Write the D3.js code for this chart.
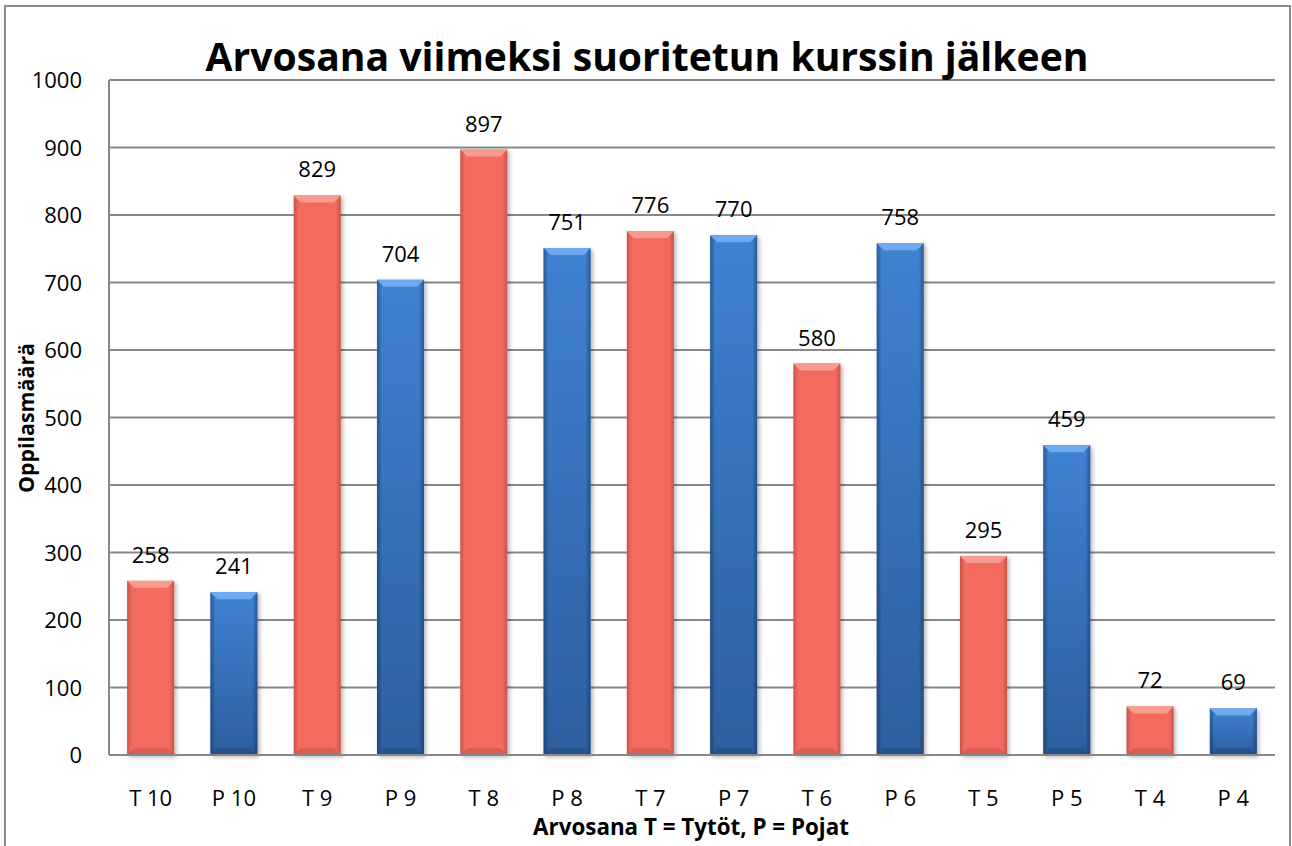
<!DOCTYPE html>
<html>
<head>
<meta charset="utf-8">
<script src="https://cdnjs.cloudflare.com/ajax/libs/d3/7.8.5/d3.min.js"></script>
<style>
  body { margin: 0; background: #fff; }
  svg { display: block; font-family: "Open Sans", sans-serif; }
</style>
</head>
<body>
<svg class="chart" width="1292" height="846"></svg>
<script>
// values
var categories = ["T 10", "P 10", "T 9", "P 9", "T 8", "P 8", "T 7", "P 7", "T 6", "P 6", "T 5", "P 5", "T 4", "P 4"];
var values = [258, 241, 829, 704, 897, 751, 776, 770, 580, 758, 295, 459, 72, 69];
var groups = ["T", "P", "T", "P", "T", "P", "T", "P", "T", "P", "T", "P", "T", "P"];
var yTicks = [0, 100, 200, 300, 400, 500, 600, 700, 800, 900, 1000];

var titleText = "Arvosana viimeksi suoritetun kurssin jälkeen";
var xTitleText = "Arvosana T = Tytöt, P = Pojat";
var yTitleText = "Oppilasmäärä";

var svg = d3.select(".chart");
var plotLeft = 109, plotRight = 1275, plotTop = 80, plotBottom = 755;

var x = d3.scaleBand().domain(categories).range([plotLeft, plotRight])
    .paddingInner(0.435).paddingOuter(0.2175);
var y = d3.scaleLinear().domain([0, 1000]).range([plotBottom, plotTop]);

// shrink/grow a text's font size so it spans a given width
function fitText(sel, width) {
    var len = sel.node().getComputedTextLength();
    var fs = parseFloat(sel.attr("font-size"));
    sel.attr("font-size", fs * width / len);
}

var defs = svg.append("defs");

function sideGrad(id, edge, mid) {
    var g = defs.append("linearGradient").attr("id", id)
        .attr("x1", 0).attr("x2", 1).attr("y1", 0).attr("y2", 0);
    g.append("stop").attr("offset", "0").attr("stop-color", edge);
    g.append("stop").attr("offset", "0.1").attr("stop-color", mid);
    g.append("stop").attr("offset", "0.9").attr("stop-color", mid);
    g.append("stop").attr("offset", "1").attr("stop-color", edge);
}
sideGrad("gradT", "#c85248", "#f36b5e");

var gp = defs.append("linearGradient").attr("id", "gradP")
    .attr("x1", 0).attr("x2", 0).attr("y1", 0).attr("y2", 1);
gp.append("stop").attr("offset", "0").attr("stop-color", "#3f82d2");
gp.append("stop").attr("offset", "1").attr("stop-color", "#2d5f9f");
sideGrad("sideP", "rgba(20,50,100,0.45)", "rgba(0,0,0,0)");

var shadow = defs.append("filter").attr("id", "shadow")
    .attr("x", "-20%").attr("y", "-5%").attr("width", "140%").attr("height", "115%");
shadow.append("feDropShadow").attr("dx", 2).attr("dy", 2)
    .attr("stdDeviation", 2).attr("flood-color", "#000").attr("flood-opacity", 0.3);

var colors = {
    T: { fill: "url(#gradT)", top: "#f89b90", bottom: "#d45a4f" },
    P: { fill: "url(#gradP)", top: "#6eaaf0", bottom: "#264f85" }
};

// outer frame
svg.append("rect")
    .attr("x", 5).attr("y", 6).attr("width", 1285).attr("height", 860)
    .attr("fill", "none").attr("stroke", "#8c8c8c").attr("stroke-width", 2);

// gridlines
svg.append("g").selectAll("line")
    .data(yTicks.slice(1))
    .enter().append("line")
    .attr("x1", plotLeft).attr("x2", plotRight)
    .attr("y1", function(d) { return y(d); })
    .attr("y2", function(d) { return y(d); })
    .attr("stroke", "#888").attr("stroke-width", 2);

// y tick labels
svg.append("g").selectAll("text")
    .data(yTicks)
    .enter().append("text")
    .attr("x", plotLeft - 27)
    .attr("y", function(d) { return y(d) + 8; })
    .attr("text-anchor", "end")
    .attr("font-size", 22)
    .attr("fill", "#000")
    .text(function(d) { return d; });

// bars
var data = categories.map(function(c, i) { return { cat: c, value: values[i], group: groups[i] }; });

var bars = svg.append("g").selectAll("g")
    .data(data)
    .enter().append("g")
    .attr("filter", "url(#shadow)");

bars.append("rect")
    .attr("x", function(d) { return x(d.cat); })
    .attr("y", function(d) { return y(d.value); })
    .attr("width", x.bandwidth())
    .attr("height", function(d) { return plotBottom - y(d.value); })
    .attr("fill", function(d) { return colors[d.group].fill; });

bars.filter(function(d) { return d.group == "P"; })
    .append("rect")
    .attr("x", function(d) { return x(d.cat); })
    .attr("y", function(d) { return y(d.value); })
    .attr("width", x.bandwidth())
    .attr("height", function(d) { return plotBottom - y(d.value); })
    .attr("fill", "url(#sideP)");

var bev = 7;
// top bevel
bars.append("path")
    .attr("d", function(d) {
        var x0 = x(d.cat), x1 = x0 + x.bandwidth(), t = y(d.value);
        return "M" + x0 + "," + t + "L" + x1 + "," + t + "L" + (x1 - bev) + "," + (t + bev) +
            "L" + (x0 + bev) + "," + (t + bev) + "Z";
    })
    .attr("fill", function(d) { return colors[d.group].top; });
// bottom bevel
bars.append("path")
    .attr("d", function(d) {
        var x0 = x(d.cat), x1 = x0 + x.bandwidth(), b = plotBottom;
        return "M" + x0 + "," + b + "L" + x1 + "," + b + "L" + (x1 - bev) + "," + (b - bev) +
            "L" + (x0 + bev) + "," + (b - bev) + "Z";
    })
    .attr("fill", function(d) { return colors[d.group].bottom; })
    .attr("opacity", 0.8);

// value labels
svg.append("g").selectAll("text")
    .data(data)
    .enter().append("text")
    .attr("x", function(d) { return x(d.cat) + x.bandwidth() / 2; })
    .attr("y", function(d) { return y(d.value) - 18; })
    .attr("text-anchor", "middle")
    .attr("font-size", 22)
    .text(function(d) { return d.value; });

// axis lines
svg.append("line")
    .attr("x1", plotLeft).attr("x2", plotLeft).attr("y1", plotTop).attr("y2", plotBottom)
    .attr("stroke", "#888").attr("stroke-width", 2);
svg.append("line")
    .attr("x1", plotLeft).attr("x2", plotRight).attr("y1", plotBottom).attr("y2", plotBottom)
    .attr("stroke", "#888").attr("stroke-width", 2);

// x tick labels
svg.append("g").selectAll("text")
    .data(categories)
    .enter().append("text")
    .attr("x", function(d) { return x(d) + x.bandwidth() / 2; })
    .attr("y", 806)
    .attr("text-anchor", "middle")
    .attr("font-size", 22)
    .text(function(d) { return d; });

// titles
var title = svg.append("text")
    .attr("x", 647).attr("y", 71)
    .attr("text-anchor", "middle")
    .attr("font-weight", "bold")
    .attr("font-size", 40)
    .text(titleText);
fitText(title, 883);

var xTitle = svg.append("text")
    .attr("x", 691).attr("y", 835)
    .attr("text-anchor", "middle")
    .attr("font-weight", "bold")
    .attr("font-size", 20)
    .text(xTitleText);
fitText(xTitle, 316);

var yTitle = svg.append("text")
    .attr("transform", "translate(34,418) rotate(-90)")
    .attr("text-anchor", "middle")
    .attr("font-weight", "bold")
    .attr("font-size", 20)
    .text(yTitleText);
fitText(yTitle, 150);
</script>
</body>
</html>
